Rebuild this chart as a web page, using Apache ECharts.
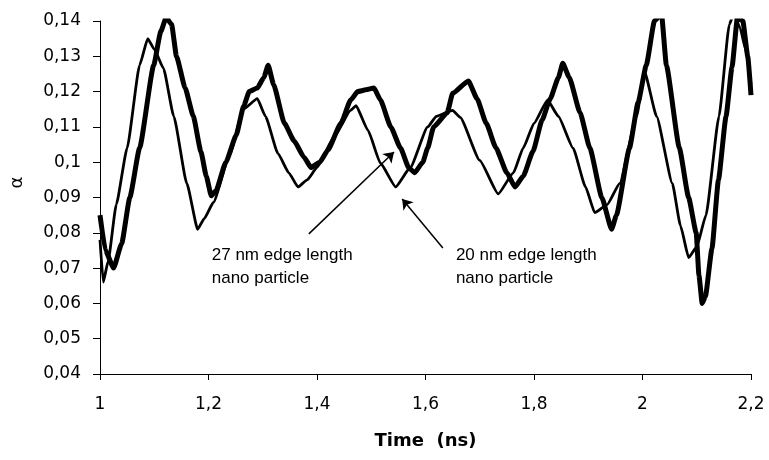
<!DOCTYPE html>
<html>
<head>
<meta charset="utf-8">
<script src="https://cdn.jsdelivr.net/npm/echarts@6/dist/echarts.min.js"></script>
<style>
  html, body { margin: 0; padding: 0; background: #fff; }
  #chart { width: 769px; height: 460px; }
</style>
</head>
<body>
<div id="chart"></div>
<script>
// Time axis ticks (ns) and alpha axis ticks
const timeTicks = [1, 1.2, 1.4, 1.6, 1.8, 2, 2.2];
const alphaTicks = [0.04, 0.05, 0.06, 0.07, 0.08, 0.09, 0.1, 0.11, 0.12, 0.13, 0.14];

// 27 nm edge length particle: time (ns) and alpha
const time27 = [
  1.000, 1.010, 1.025, 1.040, 1.055, 1.073, 1.099, 1.112, 1.122, 1.132,
  1.141, 1.157, 1.172, 1.186, 1.196, 1.205, 1.214, 1.232, 1.251, 1.265,
  1.275, 1.290, 1.302, 1.310, 1.320, 1.340, 1.358, 1.376, 1.389, 1.405,
  1.420, 1.444, 1.462, 1.475, 1.490, 1.505, 1.517, 1.536, 1.554, 1.569,
  1.580, 1.595, 1.604, 1.615, 1.640, 1.650, 1.679, 1.695, 1.712, 1.730,
  1.750, 1.765, 1.780, 1.798, 1.815, 1.830, 1.845, 1.853, 1.865, 1.885,
  1.903, 1.925, 1.943, 1.952, 1.976, 1.992, 2.007, 2.022, 2.035, 2.044,
  2.068, 2.085, 2.099, 2.104, 2.110, 2.116, 2.128, 2.140, 2.154, 2.165,
  2.175, 2.185, 2.194, 2.200
];
const alpha27 = [
  0.085, 0.075, 0.070, 0.077, 0.090, 0.104, 0.1275, 0.137, 0.141, 0.139,
  0.130, 0.121, 0.113, 0.103, 0.096, 0.0905, 0.092, 0.100, 0.1076, 0.116,
  0.120, 0.121, 0.124, 0.1275, 0.122, 0.111, 0.106, 0.1014, 0.0985, 0.100,
  0.1034, 0.111, 0.1176, 0.120, 0.1205, 0.121, 0.1176, 0.110, 0.104, 0.0985,
  0.097, 0.100, 0.104, 0.110, 0.114, 0.1195, 0.123, 0.118, 0.111, 0.104,
  0.097, 0.093, 0.096, 0.103, 0.112, 0.118, 0.124, 0.128, 0.124, 0.114,
  0.104, 0.090, 0.081, 0.085, 0.104, 0.117, 0.1275, 0.140, 0.142, 0.1275,
  0.104, 0.090, 0.080, 0.068, 0.060, 0.062, 0.0755, 0.095, 0.113, 0.127,
  0.141, 0.140, 0.130, 0.119
];

// 20 nm edge length particle: time (ns) and alpha
const time20 = [
  1.000, 1.006, 1.015, 1.030, 1.050, 1.073, 1.088, 1.100, 1.117, 1.136,
  1.160, 1.180, 1.192, 1.209, 1.239, 1.264, 1.290, 1.305, 1.328, 1.348,
  1.365, 1.382, 1.400, 1.431, 1.462, 1.472, 1.494, 1.517, 1.545, 1.572,
  1.604, 1.620, 1.650, 1.664, 1.700, 1.734, 1.762, 1.780, 1.800, 1.825,
  1.845, 1.872, 1.895, 1.912, 1.935, 1.958, 1.989, 2.004, 2.026, 2.055,
  2.070, 2.085, 2.100, 2.117, 2.141, 2.160, 2.168, 2.180, 2.190, 2.200
];
const alpha20 = [
  0.078, 0.066, 0.072, 0.088, 0.104, 0.1275, 0.135, 0.132, 0.1266, 0.113,
  0.094, 0.081, 0.084, 0.0886, 0.102, 0.115, 0.118, 0.113, 0.1025, 0.097,
  0.093, 0.095, 0.0985, 0.107, 0.1147, 0.116, 0.109, 0.0997, 0.093, 0.0985,
  0.110, 0.113, 0.1147, 0.1127, 0.1005, 0.091, 0.097, 0.104, 0.111, 0.1176,
  0.113, 0.104, 0.093, 0.0857, 0.088, 0.094, 0.113, 0.1255, 0.113, 0.094,
  0.082, 0.073, 0.076, 0.085, 0.113, 0.139, 0.142, 0.138, 0.132, 0.122
];

// Annotation labels, their anchor (top-left, data coords) and arrow ends
const noteTexts = ['27 nm edge length\nnano particle', '20 nm edge length\nnano particle'];
const noteAnchors = [[1.206, 0.0768], [1.656, 0.0768]];
const arrowFrom = [[1.385, 0.0797], [1.632, 0.0757]];
const arrowTo = [[1.542, 0.1029], [1.557, 0.0896]];

const pairs = (xs, ys) => xs.map((x, i) => [x, ys[i]]);
const commaNum = (v) => String(+v.toFixed(2)).replace('.', ',');

const chart = echarts.init(document.getElementById('chart'), null, { renderer: 'canvas' });

const option = {
  animation: false,
  backgroundColor: '#ffffff',
  grid: { left: 98, right: 18, top: 21, bottom: 86, containLabel: false },
  xAxis: {
    type: 'value',
    min: timeTicks[0],
    max: timeTicks[timeTicks.length - 1],
    interval: 0.2,
    name: 'Time  (ns)',
    nameLocation: 'middle',
    nameGap: 58,
    nameTextStyle: { fontFamily: 'DejaVu Sans', fontWeight: 'bold', fontSize: 18, color: '#000' },
    axisLine: { lineStyle: { color: '#000', width: 1 } },
    axisTick: { inside: false, length: 6, lineStyle: { color: '#000' } },
    axisLabel: { color: '#000', fontFamily: 'DejaVu Sans', fontSize: 17, margin: 22, formatter: commaNum },
    splitLine: { show: false }
  },
  yAxis: {
    type: 'value',
    min: alphaTicks[0],
    max: alphaTicks[alphaTicks.length - 1],
    interval: 0.01,
    name: 'α',
    nameLocation: 'middle',
    nameGap: 74,
    nameRotate: 90,
    nameTextStyle: { fontFamily: 'DejaVu Sans', fontSize: 18, color: '#000', padding: [0, 0, 0, 30] },
    axisLine: { show: true, lineStyle: { color: '#000', width: 1 } },
    axisTick: { show: true, inside: false, length: 7, lineStyle: { color: '#000' } },
    axisLabel: { color: '#000', fontFamily: 'DejaVu Sans', fontSize: 17, margin: 19, formatter: commaNum },
    splitLine: { show: false }
  },
  series: [
    {
      name: '27 nm',
      type: 'line',
      data: pairs(time27, alpha27),
      showSymbol: false,
      smooth: 0.15,
      smoothMonotone: 'x',
      clip: true,
      lineStyle: { color: '#000', width: 5, join: 'round' },
      markLine: {
        silent: true,
        symbol: ['none', 'arrow'],
        symbolSize: 10,
        label: { show: false },
        lineStyle: { color: '#000', width: 1.5, type: 'solid' },
        data: arrowFrom.map((p, i) => [{ coord: p }, { coord: arrowTo[i] }])
      }
    },
    {
      name: '20 nm',
      type: 'line',
      data: pairs(time20, alpha20),
      showSymbol: false,
      smooth: 0.15,
      smoothMonotone: 'x',
      clip: true,
      lineStyle: { color: '#000', width: 2.8, join: 'round' }
    }
  ]
};

chart.setOption(option);

// Place the annotation text blocks at their data anchors
const notes = noteTexts.map((t, i) => {
  const p = chart.convertToPixel({ gridIndex: 0 }, noteAnchors[i]);
  return {
    type: 'text',
    x: p[0],
    y: p[1],
    style: {
      text: t,
      fill: '#000',
      font: '17px "Liberation Sans", Arial, sans-serif',
      lineHeight: 23,
      textAlign: 'left',
      textVerticalAlign: 'top'
    }
  };
});
chart.setOption({ graphic: notes });
</script>
</body>
</html>
